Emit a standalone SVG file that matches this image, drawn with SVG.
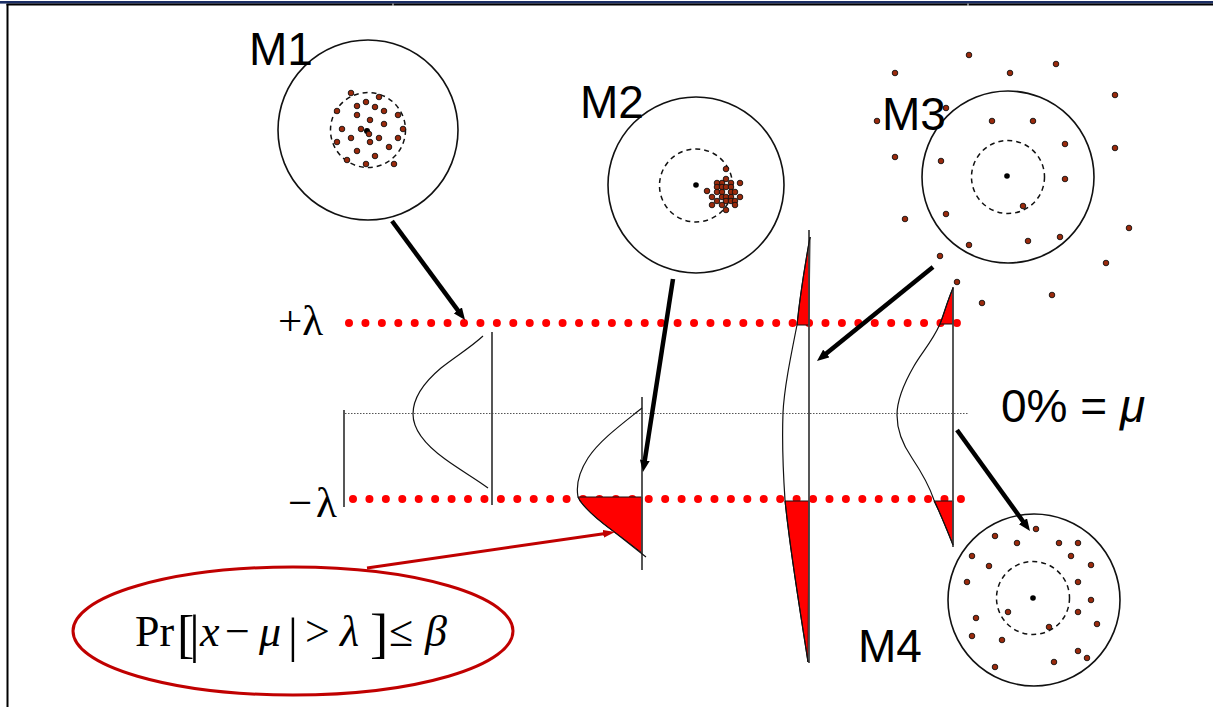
<svg xmlns="http://www.w3.org/2000/svg" width="1213" height="707" viewBox="0 0 1213 707">
<defs>
<style>
.ring{fill:none;stroke:#111;stroke-width:1.6}
.dash{fill:none;stroke:#111;stroke-width:1.5;stroke-dasharray:5 4}
.pt{fill:#9a2a0c;stroke:#111;stroke-width:0.9}
.ctr{fill:#000}
.lbl{font-family:"Liberation Sans",Arial,sans-serif;font-size:46px;fill:#000}
.serif{font-family:"Liberation Serif","Times New Roman",serif;fill:#000}
.axis{stroke:#444;stroke-width:1.8;fill:none}
.curve{fill:none;stroke:#111;stroke-width:1.2}
.tail{fill:#ff0000;stroke:#111;stroke-width:1}
.reddots{stroke:#ff0000;stroke-width:8;stroke-linecap:round}
.arrow{stroke:#000;stroke-width:4.5;fill:none}
</style>
<marker id="ah" markerUnits="userSpaceOnUse" viewBox="0 0 12 10" refX="4" refY="5" markerWidth="12" markerHeight="10" orient="auto"><path d="M0,0 L12,5 L0,10 z" fill="#000"/></marker>
<marker id="ahr" markerUnits="userSpaceOnUse" viewBox="0 0 12 8" refX="4" refY="4" markerWidth="12" markerHeight="8" orient="auto"><path d="M0,0 L12,4 L0,8 z" fill="#c00000"/></marker>
</defs>
<rect width="1213" height="707" fill="#fff"/>
<g id="frame">
<rect x="0" y="1" width="1213" height="2.6" fill="#1c2f66"/>
<line x1="6.5" y1="4.6" x2="1213" y2="4.6" stroke="#000" stroke-width="2"/>
<line x1="7.5" y1="4" x2="7.5" y2="707" stroke="#000" stroke-width="2"/>
<rect x="392.5" y="3.6" width="1" height="2.2" fill="#fff"/>
<rect x="967.5" y="3.6" width="1" height="2.2" fill="#fff"/>
</g>
<g id="levels">
<line class="reddots" x1="349" y1="323" x2="957.5" y2="323" stroke-dasharray="0 16.43"/>
<line class="reddots" x1="353" y1="499" x2="961.5" y2="499" stroke-dasharray="0 16.43"/>
<line x1="345" y1="413.5" x2="968" y2="413.5" stroke="#555" stroke-width="1" stroke-dasharray="1.5 1.5"/>
<line class="axis" x1="344" y1="410" x2="344" y2="507"/>
<text class="serif" x="278" y="335" font-size="43">+λ</text>
<text class="serif" y="517" font-size="43"><tspan x="288">−</tspan><tspan x="316">λ</tspan></text>
<text class="lbl" x="1001" y="422">0% = <tspan font-style="italic">μ</tspan></text>
</g>
<g id="M1">
<circle class="ring" cx="368" cy="130" r="90"/>
<circle class="dash" cx="368" cy="130" r="37.5"/>
<g>
<circle class="pt" cx="351" cy="93" r="2.8"/><circle class="pt" cx="379" cy="97" r="2.8"/><circle class="pt" cx="337" cy="111" r="2.8"/><circle class="pt" cx="357" cy="106" r="2.8"/><circle class="pt" cx="366" cy="102" r="2.8"/><circle class="pt" cx="375" cy="107" r="2.8"/><circle class="pt" cx="384" cy="111" r="2.8"/><circle class="pt" cx="398" cy="115" r="2.8"/><circle class="pt" cx="357" cy="115" r="2.8"/><circle class="pt" cx="370" cy="120" r="2.8"/><circle class="pt" cx="384" cy="124" r="2.8"/><circle class="pt" cx="342" cy="129" r="2.8"/><circle class="pt" cx="361" cy="129" r="2.8"/><circle class="pt" cx="403" cy="129" r="2.8"/><circle class="pt" cx="337" cy="142" r="2.8"/><circle class="pt" cx="351" cy="138" r="2.8"/><circle class="pt" cx="370" cy="142" r="2.8"/><circle class="pt" cx="379" cy="138" r="2.8"/><circle class="pt" cx="398" cy="138" r="2.8"/><circle class="pt" cx="357" cy="151" r="2.8"/><circle class="pt" cx="389" cy="147" r="2.8"/><circle class="pt" cx="375" cy="156" r="2.8"/><circle class="pt" cx="347" cy="160" r="2.8"/><circle class="pt" cx="366" cy="164" r="2.8"/><circle class="pt" cx="394" cy="164" r="2.8"/>
<circle class="ctr" cx="367" cy="131" r="3"/><circle class="pt" cx="369" cy="134" r="2.8"/>
</g>
<text class="lbl" x="249" y="65">M1</text>
</g>
<g id="M2">
<circle class="ring" cx="696" cy="185" r="88"/>
<circle class="dash" cx="696" cy="185.5" r="36.5"/>
<circle class="ctr" cx="696" cy="185" r="2.8"/>
<g>
<circle class="pt" cx="726" cy="169" r="2.8"/><circle class="pt" cx="726" cy="179" r="2.8"/><circle class="pt" cx="722" cy="183" r="2.8"/><circle class="pt" cx="731" cy="183" r="2.8"/><circle class="pt" cx="740" cy="183" r="2.8"/><circle class="pt" cx="717" cy="183" r="2.8"/><circle class="pt" cx="717" cy="187" r="2.8"/><circle class="pt" cx="722" cy="187" r="2.8"/><circle class="pt" cx="726" cy="187" r="2.8"/><circle class="pt" cx="731" cy="187" r="2.8"/><circle class="pt" cx="707" cy="191" r="2.8"/><circle class="pt" cx="717" cy="192" r="2.8"/><circle class="pt" cx="722" cy="192" r="2.8"/><circle class="pt" cx="731" cy="192" r="2.8"/><circle class="pt" cx="735" cy="192" r="2.8"/><circle class="pt" cx="712" cy="197" r="2.8"/><circle class="pt" cx="722" cy="197" r="2.8"/><circle class="pt" cx="726" cy="197" r="2.8"/><circle class="pt" cx="731" cy="197" r="2.8"/><circle class="pt" cx="740" cy="197" r="2.8"/><circle class="pt" cx="717" cy="201" r="2.8"/><circle class="pt" cx="726" cy="201" r="2.8"/><circle class="pt" cx="731" cy="201" r="2.8"/><circle class="pt" cx="735" cy="201" r="2.8"/><circle class="pt" cx="712" cy="205" r="2.8"/><circle class="pt" cx="722" cy="205" r="2.8"/><circle class="pt" cx="735" cy="205" r="2.8"/><circle class="pt" cx="726" cy="210" r="2.8"/>
</g>
<text class="lbl" x="580" y="118">M2</text>
</g>
<g id="M3">
<circle class="ring" cx="1008" cy="177" r="86"/>
<circle class="dash" cx="1008" cy="177" r="36.5"/>
<circle class="ctr" cx="1007" cy="176" r="2.8"/>
<g>
<circle class="pt" cx="969" cy="55" r="2.8"/><circle class="pt" cx="1056" cy="64" r="2.8"/><circle class="pt" cx="895" cy="73" r="2.8"/><circle class="pt" cx="1010" cy="73" r="2.8"/><circle class="pt" cx="1115" cy="95" r="2.8"/><circle class="pt" cx="946" cy="108" r="2.8"/><circle class="pt" cx="877" cy="121" r="2.8"/><circle class="pt" cx="992" cy="121" r="2.8"/><circle class="pt" cx="1033" cy="121" r="2.8"/><circle class="pt" cx="1065" cy="144" r="2.8"/><circle class="pt" cx="1115" cy="148" r="2.8"/><circle class="pt" cx="895" cy="157" r="2.8"/><circle class="pt" cx="941" cy="161" r="2.8"/><circle class="pt" cx="1065" cy="179" r="2.8"/><circle class="pt" cx="1023" cy="206" r="2.8"/><circle class="pt" cx="905" cy="219" r="2.8"/><circle class="pt" cx="946" cy="214" r="2.8"/><circle class="pt" cx="1129" cy="228" r="2.8"/><circle class="pt" cx="1060" cy="237" r="2.8"/><circle class="pt" cx="1028" cy="241" r="2.8"/><circle class="pt" cx="969" cy="245" r="2.8"/><circle class="pt" cx="940" cy="256" r="2.8"/><circle class="pt" cx="1106" cy="263" r="2.8"/><circle class="pt" cx="957" cy="282" r="2.8"/><circle class="pt" cx="1052" cy="295" r="2.8"/><circle class="pt" cx="982" cy="303" r="2.8"/>
</g>
<text class="lbl" x="882" y="130">M3</text>
</g>
<g id="M4">
<circle class="ring" cx="1034" cy="600" r="86"/>
<circle class="dash" cx="1033" cy="598" r="36.5"/>
<circle class="ctr" cx="1033" cy="598" r="2.8"/>
<g>
<circle class="pt" cx="1036" cy="529" r="2.8"/><circle class="pt" cx="995" cy="536" r="2.8"/><circle class="pt" cx="1017" cy="543" r="2.8"/><circle class="pt" cx="1059" cy="543" r="2.8"/><circle class="pt" cx="1078" cy="543" r="2.8"/><circle class="pt" cx="972" cy="556" r="2.8"/><circle class="pt" cx="1071" cy="556" r="2.8"/><circle class="pt" cx="989" cy="566" r="2.8"/><circle class="pt" cx="1091" cy="565" r="2.8"/><circle class="pt" cx="967" cy="582" r="2.8"/><circle class="pt" cx="1078" cy="582" r="2.8"/><circle class="pt" cx="1091" cy="600" r="2.8"/><circle class="pt" cx="1008" cy="612" r="2.8"/><circle class="pt" cx="1078" cy="612" r="2.8"/><circle class="pt" cx="976" cy="618" r="2.8"/><circle class="pt" cx="1097" cy="624" r="2.8"/><circle class="pt" cx="1049" cy="627" r="2.8"/><circle class="pt" cx="972" cy="636" r="2.8"/><circle class="pt" cx="1002" cy="640" r="2.8"/><circle class="pt" cx="1078" cy="651" r="2.8"/><circle class="pt" cx="1087" cy="658" r="2.8"/><circle class="pt" cx="995" cy="667" r="2.8"/><circle class="pt" cx="1054" cy="662" r="2.8"/>
</g>
<text class="lbl" x="858" y="662">M4</text>
</g>
<g id="dist1">
<line class="axis" x1="492" y1="332" x2="492" y2="505"/>
<path class="curve" d="M483,336 C470,348 456,356 441,368 C422,384 413,400 413,414 C413,430 427,446 445,459 C460,470 476,479 488,488"/>
</g>
<g id="dist2">
<path class="tail" d="M578,497 L642,497 L642,553 C633,546 624,539 613,531 C598,520 582,506 578,497 Z"/>
<line class="axis" x1="642" y1="397" x2="642" y2="570"/>
<path class="curve" d="M642,408 C622,424 600,440 588,458 C579,472 576,486 578,497 C582,506 598,520 613,531 C626,541 637,550 646,557" stroke-width="1.6"/>
</g>
<g id="dist3">
<path class="tail" d="M810,237 L809,325 L797,325 C800,295 805,265 810,237 Z"/>
<path class="tail" d="M785,501 L809,501 L808,662 C800,610 790,550 785,501 Z"/>
<line class="axis" x1="809" y1="230" x2="809" y2="663"/>
<path class="curve" d="M810,237 C805,265 800,295 797,325 C790,360 784,390 783,413 C782,440 783,470 785,500 C790,550 800,610 808,662"/>
</g>
<g id="dist4">
<path class="tail" d="M953,288 L953,324 L940,324 C944,314 947,302 953,288 Z"/>
<path class="tail" d="M934,501 L953,501 L953,545 C947,530 941,515 934,501 Z"/>
<line class="axis" x1="953" y1="287" x2="953" y2="547"/>
<path class="curve" d="M953,288 C947,302 944,314 940,324 C932,342 922,352 914,366 C903,385 897,400 897,415 C897,430 903,445 912,458 C922,473 930,488 934,500 C941,515 947,530 953,545"/>
</g>
<g id="formula">
<ellipse cx="293" cy="631" rx="220" ry="64" fill="none" stroke="#c00000" stroke-width="3"/>
<text class="serif" font-size="44"><tspan x="135" y="646">Pr</tspan><tspan x="177" y="652" font-size="52" letter-spacing="-5">[|</tspan><tspan x="200" y="646" font-style="italic">x</tspan><tspan x="225" y="646">−</tspan><tspan x="259" y="646" font-style="italic">μ</tspan><tspan x="288" y="652" font-size="49">|</tspan><tspan x="305" y="646">&gt;</tspan><tspan x="340" y="646" font-style="italic">λ</tspan><tspan x="370" y="652" font-size="55">]</tspan><tspan x="389" y="646">≤</tspan><tspan x="425" y="646" font-style="italic">β</tspan></text>
</g>
<g id="connectors">
<line class="arrow" x1="392" y1="221" x2="460.3" y2="313.6" marker-end="url(#ah)"/>
<line class="arrow" x1="673" y1="279" x2="644.2" y2="464.1" marker-end="url(#ah)"/>
<line class="arrow" x1="933" y1="267" x2="823.2" y2="356" marker-end="url(#ah)"/>
<line class="arrow" x1="957" y1="430" x2="1025.3" y2="524.5" marker-end="url(#ah)"/>
<line x1="367" y1="568" x2="607.1" y2="533.2" stroke="#c00000" stroke-width="3" marker-end="url(#ahr)"/>
</g>
</svg>
